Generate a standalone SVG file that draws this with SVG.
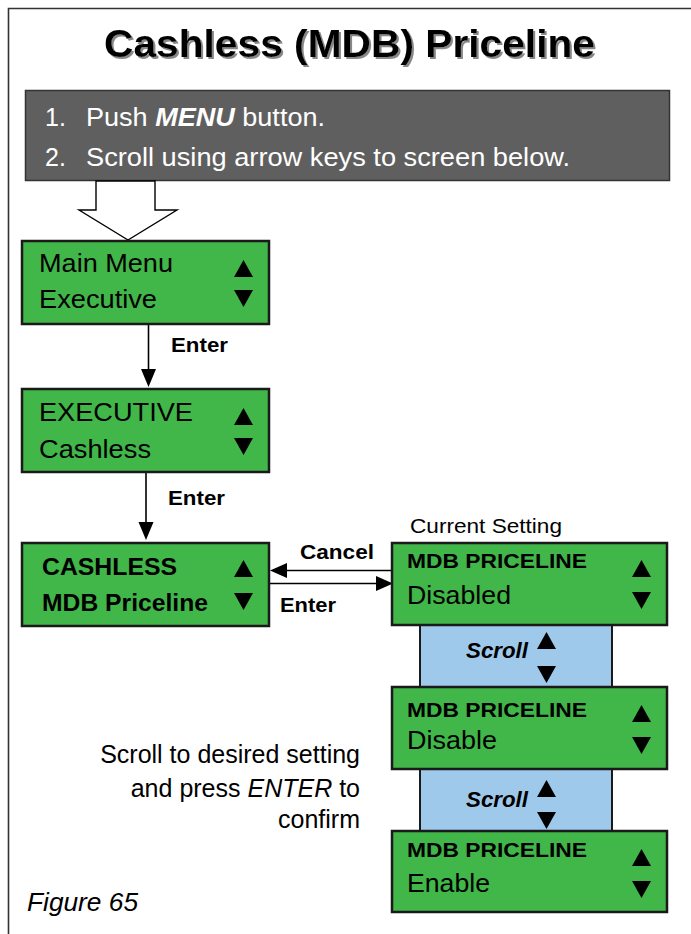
<svg xmlns="http://www.w3.org/2000/svg" xmlns:xlink="http://www.w3.org/1999/xlink" width="691" height="934" viewBox="0 0 691 934">
<style>
text{font-family:"Liberation Sans",Arial,Helvetica,sans-serif;fill:#000}
.b{font-weight:bold}
.green{fill:#41b649;stroke:#1a1a1a;stroke-width:2.5}
.blue{fill:#9fc9ea;stroke:#1a1a1a;stroke-width:2}
.conn line{stroke:#000;stroke-width:1.6}
.conn polygon{fill:#000}
.lbl{font-size:21px;font-weight:bold}
.big{font-size:26px}
.mdb{font-size:20px;font-weight:bold}
.tri{fill:#000}
</style>
<defs>
<path id="up" d="M-9.5,0 L9.5,0 L0,-17 Z"/>
<path id="dn" d="M-9.5,0 L9.5,0 L0,17 Z"/>
<filter id="shadow" x="-5%" y="-20%" width="110%" height="150%">
<feDropShadow dx="2" dy="2" stdDeviation="0.6" flood-color="#888" flood-opacity="1"/>
</filter>
</defs>
<rect width="691" height="934" fill="#fff"/>
<!-- frame -->
<path d="M8.5,934 V8.5 H691" fill="none" stroke="#333" stroke-width="1.6"/>
<!-- title -->
<g id="title">
<text x="104" y="57" class="b" font-size="38" textLength="491" lengthAdjust="spacingAndGlyphs" filter="url(#shadow)">Cashless (MDB) Priceline</text>
</g>
<!-- instructions -->
<g id="instructions">
<rect x="25.5" y="90.5" width="644" height="90" fill="#5f5f5f" stroke="#333" stroke-width="1.5"/>
<text x="45" y="126" font-size="25" style="fill:#fff">1.</text>
<text x="86" y="126" font-size="25" style="fill:#fff" textLength="239" lengthAdjust="spacingAndGlyphs">Push <tspan font-weight="bold" font-style="italic">MENU</tspan> button.</text>
<text x="45" y="166" font-size="25" style="fill:#fff">2.</text>
<text x="86" y="166" font-size="25" style="fill:#fff" textLength="484" lengthAdjust="spacingAndGlyphs">Scroll using arrow keys to screen below.</text>
</g>
<!-- connectors -->
<g class="conn" id="connectors">
<polygon points="96,181 96,210 79,210 128,240 177,210 155,210 155,181" style="fill:#fff;stroke:#000;stroke-width:1.4"/>
<line x1="148.5" y1="324" x2="148.5" y2="372"/>
<polygon points="141,369 156,369 148.5,387"/>
<line x1="146" y1="472" x2="146" y2="525"/>
<polygon points="138.5,522 153.5,522 146,540"/>
<line x1="284" y1="570.5" x2="392" y2="570.5"/>
<polygon points="287,563 287,578 270,570.5"/>
<line x1="270" y1="583.5" x2="379" y2="583.5"/>
<polygon points="376,576 376,591 393,583.5"/>
<text x="171" y="352" class="lbl" textLength="57" lengthAdjust="spacingAndGlyphs">Enter</text>
<text x="168" y="505" class="lbl" textLength="57" lengthAdjust="spacingAndGlyphs">Enter</text>
<text x="300" y="559" class="lbl" textLength="74" lengthAdjust="spacingAndGlyphs">Cancel</text>
<text x="280" y="612" class="lbl" textLength="56" lengthAdjust="spacingAndGlyphs">Enter</text>
</g>
<!-- left screens -->
<g id="main-menu">
<rect x="22" y="241" width="247" height="83" class="green"/>
<text x="39" y="272" class="big" textLength="134" lengthAdjust="spacingAndGlyphs">Main Menu</text>
<text x="39" y="308" class="big" textLength="118" lengthAdjust="spacingAndGlyphs">Executive</text>
<use xlink:href="#up" x="243.5" y="277" class="tri"/>
<use xlink:href="#dn" x="243.5" y="290" class="tri"/>
</g>
<g id="executive">
<rect x="22" y="389" width="247" height="83" class="green"/>
<text x="39" y="421" class="big" textLength="154" lengthAdjust="spacingAndGlyphs">EXECUTIVE</text>
<text x="39" y="458" class="big" textLength="112" lengthAdjust="spacingAndGlyphs">Cashless</text>
<use xlink:href="#up" x="243.5" y="425" class="tri"/>
<use xlink:href="#dn" x="243.5" y="438" class="tri"/>
</g>
<g id="cashless">
<rect x="22" y="543" width="247" height="83" class="green"/>
<text x="42" y="575" font-size="23" class="b" textLength="135" lengthAdjust="spacingAndGlyphs">CASHLESS</text>
<text x="42" y="611" font-size="23" class="b" textLength="166" lengthAdjust="spacingAndGlyphs">MDB Priceline</text>
<use xlink:href="#up" x="243.5" y="577" class="tri"/>
<use xlink:href="#dn" x="243.5" y="593" class="tri"/>
</g>
<!-- right screens -->
<text x="410" y="533" font-size="21" textLength="152" lengthAdjust="spacingAndGlyphs">Current Setting</text>
<g id="scroll-1">
<rect x="420" y="625" width="192" height="62" class="blue"/>
<text x="466" y="658" font-size="22" font-weight="bold" font-style="italic" textLength="62" lengthAdjust="spacingAndGlyphs">Scroll</text>
<use xlink:href="#up" x="546.5" y="649" class="tri"/>
<use xlink:href="#dn" x="546.5" y="666" class="tri"/>
</g>
<g id="scroll-2">
<rect x="420" y="769" width="192" height="62" class="blue"/>
<text x="466" y="807" font-size="22" font-weight="bold" font-style="italic" textLength="62" lengthAdjust="spacingAndGlyphs">Scroll</text>
<use xlink:href="#up" x="546.5" y="797" class="tri"/>
<use xlink:href="#dn" x="546.5" y="812" class="tri"/>
</g>
<g id="priceline-disabled">
<rect x="392" y="543" width="275" height="82" class="green"/>
<text x="407" y="568" class="mdb" textLength="180" lengthAdjust="spacingAndGlyphs">MDB PRICELINE</text>
<text x="407" y="604" class="big" textLength="104" lengthAdjust="spacingAndGlyphs">Disabled</text>
<use xlink:href="#up" x="641.5" y="577" class="tri"/>
<use xlink:href="#dn" x="641.5" y="592" class="tri"/>
</g>
<g id="priceline-disable">
<rect x="392" y="687" width="275" height="82" class="green"/>
<text x="407" y="717" class="mdb" textLength="180" lengthAdjust="spacingAndGlyphs">MDB PRICELINE</text>
<text x="407" y="749" class="big" textLength="90" lengthAdjust="spacingAndGlyphs">Disable</text>
<use xlink:href="#up" x="641.5" y="722" class="tri"/>
<use xlink:href="#dn" x="641.5" y="737" class="tri"/>
</g>
<g id="priceline-enable">
<rect x="392" y="831" width="275" height="81" class="green"/>
<text x="407" y="857" class="mdb" textLength="180" lengthAdjust="spacingAndGlyphs">MDB PRICELINE</text>
<text x="407" y="892" class="big" textLength="83" lengthAdjust="spacingAndGlyphs">Enable</text>
<use xlink:href="#up" x="641.5" y="866" class="tri"/>
<use xlink:href="#dn" x="641.5" y="881" class="tri"/>
</g>
<!-- note -->
<g id="note">
<text x="360" y="763" font-size="25" text-anchor="end">Scroll to desired setting</text>
<text x="360" y="797" font-size="25" text-anchor="end">and press <tspan font-style="italic">ENTER</tspan> to</text>
<text x="360" y="828" font-size="25" text-anchor="end">confirm</text>
</g>
<text x="27" y="911" font-size="25" font-style="italic" textLength="111" lengthAdjust="spacingAndGlyphs">Figure 65</text>
</svg>
